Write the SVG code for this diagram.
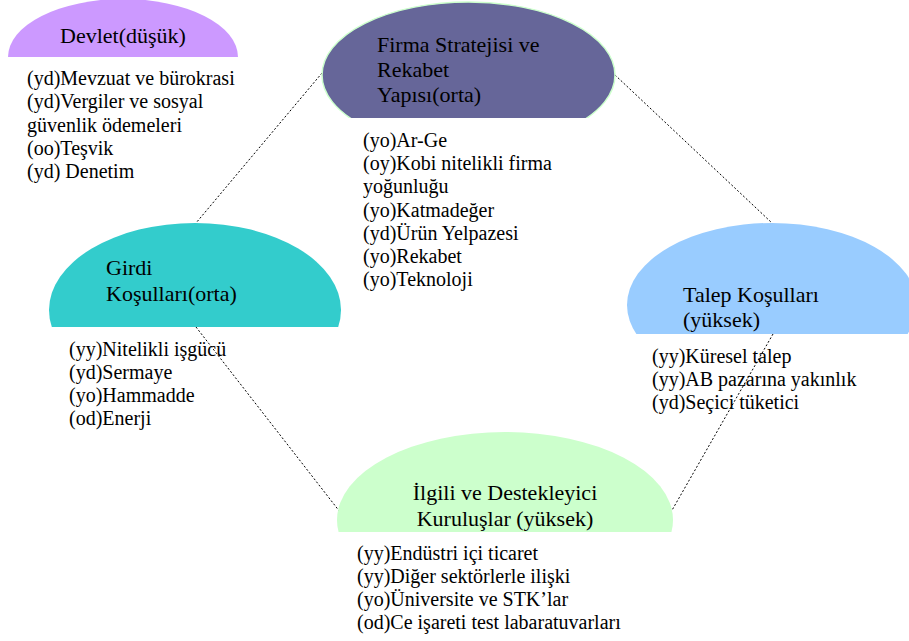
<svg xmlns="http://www.w3.org/2000/svg" width="909" height="641" viewBox="0 0 909 641">
<style>
.t{font-family:"Liberation Serif","Times New Roman",serif;font-size:22px;fill:#000}
.l{font-family:"Liberation Serif","Times New Roman",serif;font-size:20px;fill:#000}
.c{fill:none;stroke:#000;stroke-width:1;stroke-dasharray:2 2}
</style>
<defs>
<clipPath id="cDev"><rect x="0" y="0" width="260" height="57"/></clipPath>
<clipPath id="cFir"><rect x="300" y="0" width="340" height="118"/></clipPath>
<clipPath id="cGir"><rect x="30" y="200" width="340" height="127"/></clipPath>
<clipPath id="cTal"><rect x="600" y="200" width="309" height="134"/></clipPath>
<clipPath id="cIlg"><rect x="320" y="420" width="370" height="112"/></clipPath>
</defs>
<rect width="909" height="641" fill="#fff"/>
<g id="connectors">
<line class="c" x1="322" y1="73" x2="196" y2="223"/>
<line class="c" x1="615" y1="75" x2="772" y2="223"/>
<line class="c" x1="196" y1="327" x2="340" y2="512"/>
<line class="c" x1="773" y1="334" x2="671" y2="512"/>
</g>
<g id="devlet">
<ellipse cx="123" cy="57" rx="115" ry="58" fill="#cc99ff" clip-path="url(#cDev)"/>
<text class="t" x="123" y="43" text-anchor="middle">Devlet(düşük)</text>
<text class="l" x="27" y="85">(yd)Mevzuat ve bürokrasi</text>
<text class="l" x="27" y="108">(yd)Vergiler ve sosyal</text>
<text class="l" x="27" y="132">güvenlik ödemeleri</text>
<text class="l" x="27" y="155">(oo)Teşvik</text>
<text class="l" x="27" y="178">(yd) Denetim</text>
</g>
<g id="firma">
<ellipse cx="468.5" cy="75" rx="146.5" ry="73" fill="#666699" stroke="#ccffcc" stroke-width="1.5" clip-path="url(#cFir)"/>
<text class="t" x="377" y="52">Firma Stratejisi ve</text>
<text class="t" x="377" y="77">Rekabet</text>
<text class="t" x="377" y="102">Yapısı(orta)</text>
<text class="l" x="363" y="147">(yo)Ar-Ge</text>
<text class="l" x="363" y="170">(oy)Kobi nitelikli firma</text>
<text class="l" x="363" y="193">yoğunluğu</text>
<text class="l" x="363" y="217">(yo)Katmadeğer</text>
<text class="l" x="363" y="240">(yd)Ürün Yelpazesi</text>
<text class="l" x="363" y="263">(yo)Rekabet</text>
<text class="l" x="363" y="286">(yo)Teknoloji</text>
</g>
<g id="girdi">
<ellipse cx="195" cy="310" rx="146" ry="87" fill="#33cccc" clip-path="url(#cGir)"/>
<text class="t" x="106" y="275">Girdi</text>
<text class="t" x="106" y="301">Koşulları(orta)</text>
<text class="l" x="69" y="356">(yy)Nitelikli işgücü</text>
<text class="l" x="69" y="379">(yd)Sermaye</text>
<text class="l" x="69" y="402">(yo)Hammadde</text>
<text class="l" x="69" y="425">(od)Enerji</text>
</g>
<g id="talep">
<ellipse cx="772" cy="305" rx="145" ry="82" fill="#99ccff" clip-path="url(#cTal)"/>
<text class="t" x="683" y="302">Talep Koşulları</text>
<text class="t" x="683" y="327">(yüksek)</text>
<text class="l" x="652" y="363">(yy)Küresel talep</text>
<text class="l" x="652" y="386">(yy)AB pazarına yakınlık</text>
<text class="l" x="652" y="409">(yd)Seçici tüketici</text>
</g>
<g id="ilgili">
<ellipse cx="505" cy="520" rx="168" ry="88" fill="#ccffcc" clip-path="url(#cIlg)"/>
<text class="t" x="505" y="500" text-anchor="middle">İlgili ve Destekleyici</text>
<text class="t" x="505" y="526" text-anchor="middle">Kuruluşlar (yüksek)</text>
<text class="l" x="357" y="560">(yy)Endüstri içi ticaret</text>
<text class="l" x="357" y="583">(yy)Diğer sektörlerle ilişki</text>
<text class="l" x="357" y="606">(yo)Üniversite ve STK’lar</text>
<text class="l" x="357" y="629">(od)Ce işareti test labaratuvarları</text>
</g>
</svg>
